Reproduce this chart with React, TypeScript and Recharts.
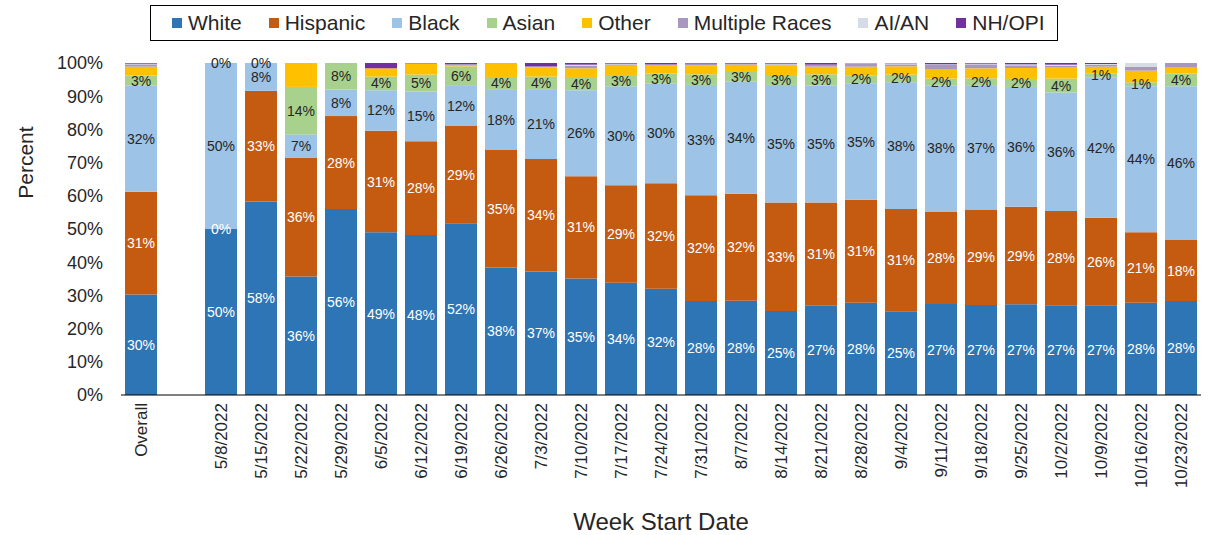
import React from "react";
import { BarChart, Bar, XAxis, YAxis, LabelList, Label } from "recharts";

// week start dates (blank slot between Overall and the weekly bars)
const categories = [
  "Overall", "",
  "5/8/2022", "5/15/2022", "5/22/2022", "5/29/2022", "6/5/2022", "6/12/2022", "6/19/2022",
  "6/26/2022", "7/3/2022", "7/10/2022", "7/17/2022", "7/24/2022", "7/31/2022", "8/7/2022",
  "8/14/2022", "8/21/2022", "8/28/2022", "9/4/2022", "9/11/2022", "9/18/2022", "9/25/2022",
  "10/2/2022", "10/9/2022", "10/16/2022", "10/23/2022",
];

// percent of each week's total; 0.01 marks the "0%" segments that still carry a label
const white = [30.3, null, 50, 58.3, 35.7, 56, 49, 48.2, 51.7, 38.4, 37.2, 35.1, 33.8, 32.0, 28.3, 28.4, 25.3, 26.9, 27.8, 25.2, 27.4, 27.1, 27.3, 27.0, 27.0, 27.8, 28.3];
const hispanic = [30.9, null, 0.01, 33.3, 35.7, 28, 30.6, 28.2, 29.3, 35.4, 33.9, 30.8, 29.4, 31.8, 31.9, 32.2, 32.7, 31.1, 31.0, 30.8, 27.9, 28.8, 29.4, 28.4, 26.4, 21.2, 18.4];
const black = [32.0, null, 49.98, 8.39, 7.1, 8, 12.2, 15.0, 12.1, 18.1, 20.8, 25.9, 29.8, 30.0, 33.2, 33.8, 35.4, 35.2, 35.1, 38.2, 37.9, 37.2, 36.1, 35.7, 42.2, 44.0, 46.3];
const asian = [3.0, null, 0.01, 0.01, 14.3, 8, 4.1, 5.1, 5.9, 3.9, 4.0, 4.0, 3.4, 3.0, 3.2, 2.9, 3.0, 3.4, 2.4, 2.3, 2.1, 2.3, 2.4, 4.2, 1.3, 1.2, 3.8];
const other = [2.7, null, 0, 0, 7.2, 0, 2.5, 3.2, 0.4, 4.0, 2.8, 2.6, 2.8, 2.6, 2.7, 2.2, 2.9, 2.3, 2.6, 2.5, 2.9, 3.0, 3.3, 3.3, 2.0, 3.5, 1.8];
const multiple = [0.7, null, 0, 0, 0, 0, 0, 0.3, 0.3, 0.2, 0.3, 0.8, 0.4, 0.2, 0.4, 0.3, 0.3, 0.5, 0.8, 0.6, 1.2, 1.2, 0.8, 0.6, 0.5, 1.2, 1.4];
const aian = [0.2, null, 0, 0, 0, 0, 0, 0, 0, 0, 0, 0.3, 0.2, 0, 0.1, 0, 0.2, 0.1, 0.2, 0.3, 0.2, 0.2, 0.3, 0.3, 0.3, 1.1, 0];
const nhopi = [0.2, null, 0, 0, 0, 0, 1.6, 0, 0.3, 0, 1.0, 0.5, 0.2, 0.4, 0.2, 0.2, 0.2, 0.5, 0.1, 0.1, 0.4, 0.2, 0.4, 0.5, 0.3, 0, 0];

const yTicks = [0, 10, 20, 30, 40, 50, 60, 70, 80, 90, 100];

const series = [
  { key: "white", name: "White", color: "#2E75B6", label: "#ffffff" },
  { key: "hispanic", name: "Hispanic", color: "#C55A11", label: "#ffffff" },
  { key: "black", name: "Black", color: "#9DC3E6", label: "#262626" },
  { key: "asian", name: "Asian", color: "#A9D18E", label: "#262626" },
  { key: "other", name: "Other", color: "#FFC000", label: null },
  { key: "multiple", name: "Multiple Races", color: "#A898C0", label: null },
  { key: "aian", name: "AI/AN", color: "#D6DCE5", label: null },
  { key: "nhopi", name: "NH/OPI", color: "#7030A0", label: null },
];

const data = categories.map((date, i) => ({
  date,
  white: white[i],
  hispanic: hispanic[i],
  black: black[i],
  asian: asian[i],
  other: other[i],
  multiple: multiple[i],
  aian: aian[i],
  nhopi: nhopi[i],
}));

const FONT = "'Liberation Sans', Arial, sans-serif";

const makeLabel = (color: string) => (props: any) => {
  const { value } = props;
  if (value == null) return null;
  const vb = props.viewBox || props;
  const x = Number(vb.x) + Number(vb.width) / 2;
  const y = Number(vb.y) + Number(vb.height) / 2;
  return (
    <text x={x} y={y} fill={color} fontSize={14} fontFamily={FONT} textAnchor="middle" dominantBaseline="central">
      {Math.round(value)}%
    </text>
  );
};

const XTick = (props: any) => {
  const { x, y, payload } = props;
  return (
    <text
      x={x}
      y={y}
      transform={`rotate(-90 ${x} ${y})`}
      textAnchor="end"
      dominantBaseline="central"
      fontSize={17}
      fontFamily={FONT}
      fill="#262626"
    >
      {payload.value}
    </text>
  );
};

function LegendBox() {
  return (
    <div
      style={{
        position: "absolute",
        left: 150,
        top: 5,
        width: 908,
        height: 36,
        border: "1px solid #000",
        display: "flex",
        alignItems: "center",
        gap: 27,
        paddingLeft: 21,
        boxSizing: "border-box",
        fontFamily: FONT,
        fontSize: 21,
        color: "#262626",
        whiteSpace: "nowrap",
      }}
    >
      {series.map((s) => (
        <div key={s.key} style={{ display: "flex", alignItems: "center", gap: 6 }}>
          <span style={{ width: 10, height: 10, background: s.color, display: "inline-block" }} />
          <span>{s.name}</span>
        </div>
      ))}
    </div>
  );
}

export default function App() {
  return (
    <div style={{ position: "absolute", left: 0, top: 0, width: 1210, height: 535, background: "#fff" }}>
      <BarChart width={1210} height={535} data={data} margin={{ top: 63, right: 9, left: 0, bottom: 0 }}>
        <XAxis
          dataKey="date"
          interval={0}
          height={140}
          axisLine={{ stroke: "#000" }}
          tickLine={false}
          tick={<XTick />}
        >
          <Label
            value="Week Start Date"
            position="insideBottom"
            offset={5}
            style={{ fontSize: 24, fontFamily: FONT, fill: "#262626" }}
          />
        </XAxis>
        <YAxis
          domain={[0, 100]}
          ticks={yTicks}
          allowDataOverflow
          tickFormatter={(v) => `${v}%`}
          axisLine={false}
          tickLine={false}
          width={121}
          tickMargin={12}
          tick={{ fontSize: 18, fontFamily: FONT, fill: "#262626" }}
        >
          <Label
            content={(p: any) => {
              const vb = p.viewBox;
              const cx = vb.x + 26;
              const cy = vb.y + vb.height * 0.3;
              return (
                <text
                  x={cx}
                  y={cy}
                  transform={`rotate(-90 ${cx} ${cy})`}
                  textAnchor="middle"
                  dominantBaseline="central"
                  fontSize={21}
                  fontFamily={FONT}
                  fill="#262626"
                >
                  Percent
                </text>
              );
            }}
          />
        </YAxis>
        {series.map((s) => (
          <Bar
            key={s.key}
            dataKey={s.key}
            name={s.name}
            stackId="a"
            fill={s.color}
            barSize={32}
            isAnimationActive={false}
          >
            {s.label && <LabelList dataKey={s.key} content={makeLabel(s.label)} />}
          </Bar>
        ))}
      </BarChart>
      <LegendBox />
    </div>
  );
}
